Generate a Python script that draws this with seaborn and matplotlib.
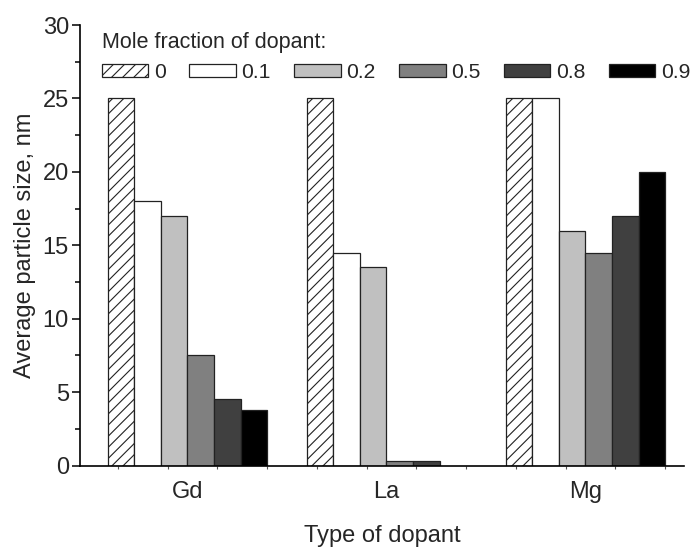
import matplotlib
matplotlib.use("Agg")
import matplotlib.pyplot as plt
import matplotlib.patches as mpatches
from matplotlib.ticker import FixedLocator, MultipleLocator
import seaborn as sns
import pandas as pd
import numpy as np

dopants = ["Gd", "La", "Mg"]
fractions = ["0", "0.1", "0.2", "0.5", "0.8", "0.9"]
gd_sizes = [25, 18, 17, 7.5, 4.5, 3.8]
la_sizes = [25, 14.5, 13.5, 0.3, 0.3, np.nan]
mg_sizes = [25, 25, 16, 14.5, 17, 20]
colors = ["#FFFFFF", "#FFFFFF", "#C0C0C0", "#808080", "#404040", "#000000"]

rows = []
for d, vals in zip(dopants, [gd_sizes, la_sizes, mg_sizes]):
    for f, v in zip(fractions, vals):
        rows.append({"dopant": d, "fraction": f, "size": v})
df = pd.DataFrame(rows)

sns.set_style("ticks")
plt.rcParams["font.family"] = ["Liberation Sans", "DejaVu Sans"]
plt.rcParams["hatch.linewidth"] = 0.8
plt.rcParams["hatch.color"] = "#222222"

HATCH = "///"

fig = plt.figure(figsize=(7.0, 5.51), dpi=100)
ax = fig.add_axes([80 / 700, 1 - 465.5 / 551, 604 / 700, 440.5 / 551])

sns.barplot(data=df, x="dopant", y="size", hue="fraction", order=dopants,
            hue_order=fractions, palette=colors, width=0.8, dodge=True,
            edgecolor="#222222", linewidth=0.9, saturation=1, ax=ax,
            legend=False, errorbar=None)

for bar in ax.containers[0]:
    bar.set_hatch(HATCH)

ax.set_ylim(0, 30)
ax.set_xlim(-0.54, 2.495)
ax.yaxis.set_major_locator(MultipleLocator(5))
ax.yaxis.set_minor_locator(MultipleLocator(2.5))
ax.tick_params(axis="y", which="major", direction="out", length=6, width=1.1,
               labelsize=17, pad=2, color="black")
ax.tick_params(axis="y", which="minor", direction="out", length=3.5, width=1.1,
               color="black")
ax.xaxis.set_minor_locator(FixedLocator([-0.35 + 0.25 * k for k in range(12)]))
ax.tick_params(axis="x", which="major", length=0, labelsize=17, pad=11)
ax.tick_params(axis="x", which="minor", direction="out", length=2, width=0.8,
               color="#555555")

ax.set_xlabel("Type of dopant", fontsize=17, labelpad=16)
ax.set_ylabel("Average particle size, nm", fontsize=17, labelpad=5)

sns.despine(ax=ax, top=True, right=True)
for s in ["left", "bottom"]:
    ax.spines[s].set_linewidth(1.2)
    ax.spines[s].set_color("black")

handles = []
for i, (f, c) in enumerate(zip(fractions, colors)):
    handles.append(mpatches.Patch(facecolor=c, edgecolor="#222222",
                                  linewidth=0.9, hatch=HATCH if i == 0 else None,
                                  label=f))
leg = ax.legend(handles=handles, ncol=6, loc="upper left",
                bbox_to_anchor=(0.036, 0.985), frameon=False, fontsize=15.2,
                title="Mole fraction of dopant:", title_fontsize=15.5,
                alignment="left", handlelength=2.2, handleheight=0.56,
                handletextpad=0.28, columnspacing=1.1, borderpad=0,
                borderaxespad=0)

fig.savefig("out.png", dpi=100)
